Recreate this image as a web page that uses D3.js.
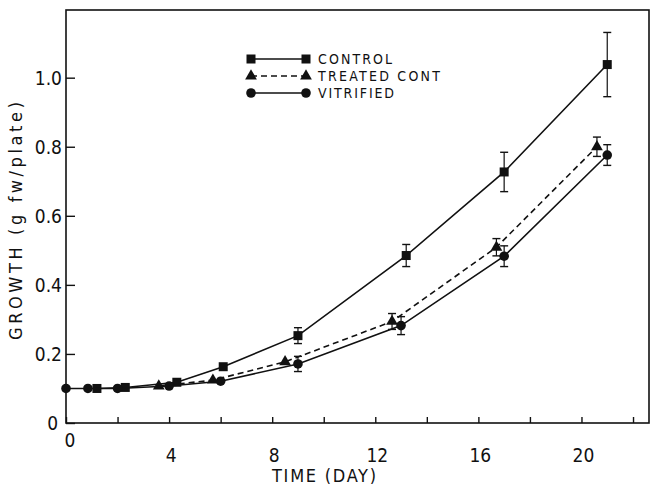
<!DOCTYPE html>
<html>
<head>
<meta charset="utf-8">
<script src="https://cdn.jsdelivr.net/npm/d3@7"></script>
<style>
  body { margin: 0; background: #fff; }
  svg text { font-family: "Liberation Sans Narrow", "DejaVu Sans Condensed", "Liberation Sans", sans-serif; fill: #111; }
</style>
</head>
<body>
<svg id="chart" width="655" height="487"></svg>
<script>
// days and growth (g fw/plate), err = half bar length
var controlDays = [1.2, 2.3, 4.3, 6.1, 9.0, 13.2, 17.0, 21.0];
var controlGrowth = [0.100, 0.103, 0.118, 0.163, 0.253, 0.485, 0.727, 1.038];
var controlErr = [0, 0, 0, 0, 0.023, 0.032, 0.057, 0.093];

var treatedDays = [3.6, 5.7, 8.5, 12.65, 16.7, 20.6];
var treatedGrowth = [0.107, 0.124, 0.177, 0.294, 0.509, 0.800];
var treatedErr = [0, 0, 0, 0.023, 0.025, 0.028];

var vitrifiedDays = [0, 0.85, 2.0, 4.0, 6.0, 9.0, 13.0, 17.0, 21.0];
var vitrifiedGrowth = [0.100, 0.100, 0.100, 0.107, 0.121, 0.171, 0.282, 0.483, 0.776];
var vitrifiedErr = [0, 0, 0, 0, 0, 0.022, 0.026, 0.030, 0.030];

var xTicks = [0, 2, 4, 6, 8, 10, 12, 14, 16, 18, 20, 22];
var xLabels = [0, 4, 8, 12, 16, 20];
var yTicks = [0, 0.2, 0.4, 0.6, 0.8, 1.0];
var yLabels = ["0", "0.2", "0.4", "0.6", "0.8", "1.0"];
var legendNames = ["CONTROL", "TREATED CONT", "VITRIFIED"];

(function () {
    var svg = d3.select("#chart");
    var pLeft = 66, pRight = 649, pTop = 10, pBottom = 423;

    var x = d3.scaleLinear().domain([0, 22.62]).range([pLeft, pRight]);
    var y = d3.scaleLinear().domain([0, 1.196]).range([pBottom, pTop]);

    function zip(days, vals, errs) {
        return days.map(function (d, i) { return {d: d, v: vals[i], e: errs[i]}; });
    }

    var series = [
        {name: legendNames[0], data: zip(controlDays, controlGrowth, controlErr), shape: "square", dash: null, len: 74},
        {name: legendNames[1], data: zip(treatedDays, treatedGrowth, treatedErr), shape: "triangle", dash: "6,4", len: 122},
        {name: legendNames[2], data: zip(vitrifiedDays, vitrifiedGrowth, vitrifiedErr), shape: "circle", dash: null, len: 76}
    ];

    // frame
    svg.append("rect")
        .attr("x", pLeft).attr("y", pTop)
        .attr("width", pRight - pLeft).attr("height", pBottom - pTop)
        .attr("fill", "none").attr("stroke", "#111").attr("stroke-width", 1.6);

    // axes, ticks pointing inward
    svg.append("g").attr("transform", "translate(0," + pBottom + ")")
        .call(d3.axisBottom(x).tickValues(xTicks).tickSize(-6).tickFormat(""));
    svg.append("g").attr("transform", "translate(" + pLeft + ",0)")
        .call(d3.axisLeft(y).tickValues(yTicks).tickSize(-9).tickFormat(""));
    svg.selectAll(".domain").remove();
    svg.selectAll(".tick line").attr("stroke", "#111").attr("stroke-width", 1.4);

    svg.append("g").selectAll("text").data(xLabels).join("text")
        .attr("x", function (d) { return x(d) + (d === 0 ? 4 : 2); })
        .attr("y", function (d) { return d === 0 ? 447 : 462; })
        .attr("text-anchor", "middle")
        .attr("font-size", 19)
        .text(function (d) { return d; });

    svg.append("g").selectAll("text").data(yTicks).join("text")
        .attr("x", function (d) { return d === 0 ? 58 : 62; })
        .attr("y", function (d) { return y(d) + 7; })
        .attr("text-anchor", "end")
        .attr("font-size", 19)
        .text(function (d, i) { return yLabels[i]; });

    svg.append("text")
        .attr("x", 272).attr("y", 482)
        .attr("font-size", 18)
        .attr("textLength", 104).attr("lengthAdjust", "spacing")
        .text("TIME (DAY)");

    svg.append("text")
        .attr("transform", "translate(22,340) rotate(-90)")
        .attr("font-size", 18)
        .attr("textLength", 238).attr("lengthAdjust", "spacing")
        .text("GROWTH (g fw/plate)");

    function drawMarker(g, shape, cx, cy) {
        if (shape === "square") {
            g.append("rect").attr("x", cx - 4.5).attr("y", cy - 4.5)
                .attr("width", 9).attr("height", 9).attr("fill", "#111");
        } else if (shape === "triangle") {
            g.append("path")
                .attr("d", d3.symbol(d3.symbolTriangle, 60)())
                .attr("transform", "translate(" + cx + "," + cy + ")")
                .attr("fill", "#111");
        } else {
            g.append("circle").attr("cx", cx).attr("cy", cy).attr("r", 4.8).attr("fill", "#111");
        }
    }

    var line = d3.line()
        .x(function (p) { return x(p.d); })
        .y(function (p) { return y(p.v); });

    series.forEach(function (s) {
        var g = svg.append("g");
        g.append("path")
            .datum(s.data)
            .attr("d", line)
            .attr("fill", "none")
            .attr("stroke", "#111")
            .attr("stroke-width", 1.6)
            .attr("stroke-dasharray", s.dash);

        s.data.filter(function (p) { return p.e > 0; }).forEach(function (p) {
            var cx = x(p.d), y0 = y(p.v - p.e), y1 = y(p.v + p.e);
            g.append("line").attr("x1", cx).attr("x2", cx).attr("y1", y0).attr("y2", y1)
                .attr("stroke", "#111").attr("stroke-width", 1.2);
            [y0, y1].forEach(function (yy) {
                g.append("line").attr("x1", cx - 4).attr("x2", cx + 4).attr("y1", yy).attr("y2", yy)
                    .attr("stroke", "#111").attr("stroke-width", 1.4);
            });
        });

        s.data.forEach(function (p) { drawMarker(g, s.shape, x(p.d), y(p.v)); });
    });

    // legend
    var legend = svg.append("g");
    series.forEach(function (s, i) {
        var ly = 59 + i * 17;
        legend.append("line")
            .attr("x1", 251).attr("x2", 306).attr("y1", ly).attr("y2", ly)
            .attr("stroke", "#111").attr("stroke-width", 1.6)
            .attr("stroke-dasharray", s.dash);
        drawMarker(legend, s.shape, 251, ly);
        drawMarker(legend, s.shape, 306, ly);
        legend.append("text")
            .attr("x", 318).attr("y", ly + 5)
            .attr("font-size", 14)
            .attr("textLength", s.len).attr("lengthAdjust", "spacing")
            .text(s.name);
    });
})();
</script>
</body>
</html>
